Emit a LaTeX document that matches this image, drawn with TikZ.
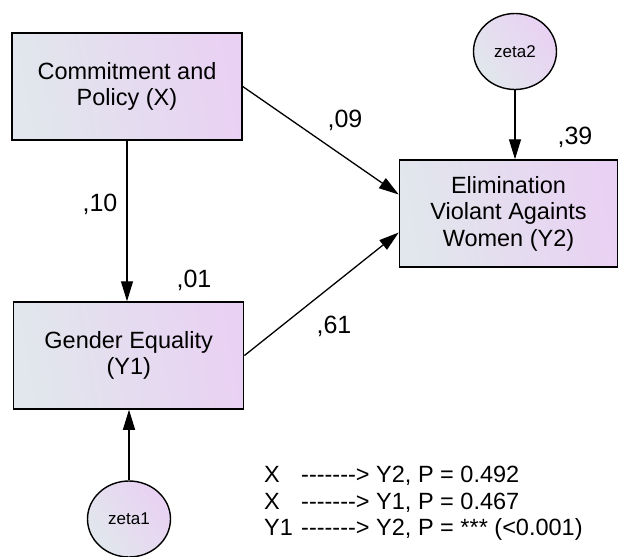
\documentclass[tikz,border=0pt]{standalone}
\usepackage{fontspec}
\setmainfont{Liberation Sans}
\usetikzlibrary{arrows.meta,shapes.geometric}
\definecolor{gL}{RGB}{225,231,236}
\definecolor{gR}{RGB}{233,209,243}
\newcommand\hdash{-\kern0pt}
\newcommand\longarr{\hdash\hdash\hdash\hdash\hdash\hdash\hdash>}
\tikzset{
  varbox/.style={draw=black, line width=1.5pt, left color=gL, right color=gR,
    shading angle=100, minimum width=#1, inner sep=0pt, align=center,
    font=\fontsize{23.5}{26.5}\selectfont},
  errc/.style={ellipse, draw=black, line width=1.4pt, left color=gL, right color=gR,
    shading angle=125, minimum width=83pt, minimum height=76pt, inner sep=0pt,
    font=\fontsize{17}{19}\selectfont},
  path/.style={line width=1.3pt, -{Triangle[length=20pt,width=12pt]}},
  coef/.style={font=\fontsize{25}{28}\selectfont, inner sep=0pt},
  note/.style={font=\fontsize{23.5}{26}\selectfont, inner sep=0pt, anchor=base west}
}
\begin{document}
\begin{tikzpicture}[x=1pt, y=-1pt]
\useasboundingbox (0,0) rectangle (619,557);
\fill[white] (0,0) rectangle (619,557);
\node[varbox=230pt, minimum height=107pt] (X) at (127,86.5) {Commitment and\\Policy (X)};
\node[varbox=230pt, minimum height=107pt] (Y1) at (128.7,355.5) {Gender Equality\\(Y1)};
\node[varbox=218pt, minimum height=107pt] (Y2) at (508.5,213.5) {Elimination\\Violant Againts\\Women (Y2)};
\node[errc] (z2) at (515,51.5) {zeta2};
\node[errc] (z1) at (129,519) {zeta1};

\draw[path] (X.south -| 127,0) -- (127,0 |- Y1.north);
\draw[path] (X.east) -- ([yshift=19pt]Y2.west);
\draw[path] (Y1.east) -- ([yshift=-19pt]Y2.west);
\draw[path] (z2.south) -- (z2.south |- Y2.north);
\draw[path] (z1.north) -- (z1.north |- Y1.south);

\node[coef] (c09) at (345,120) {,09};
\node[coef] (c39) at (575,137) {,39};
\node[coef] (c10) at (100,204) {,10};
\node[coef] (c01) at (194,280) {,01};
\node[coef] (c61) at (334,326) {,61};

\node[note] (n1) at (264,482.5) {\makebox[37pt][l]{X}\longarr{} Y2, P = 0.492};
\node[note] (n2) at (264,509) {\makebox[37pt][l]{X}\longarr{} Y1, P = 0.467};
\node[note] (n3) at (264,535.5) {\makebox[37pt][l]{Y1}\longarr{} Y2, P = *** (<0.001)};
\end{tikzpicture}
\end{document}
